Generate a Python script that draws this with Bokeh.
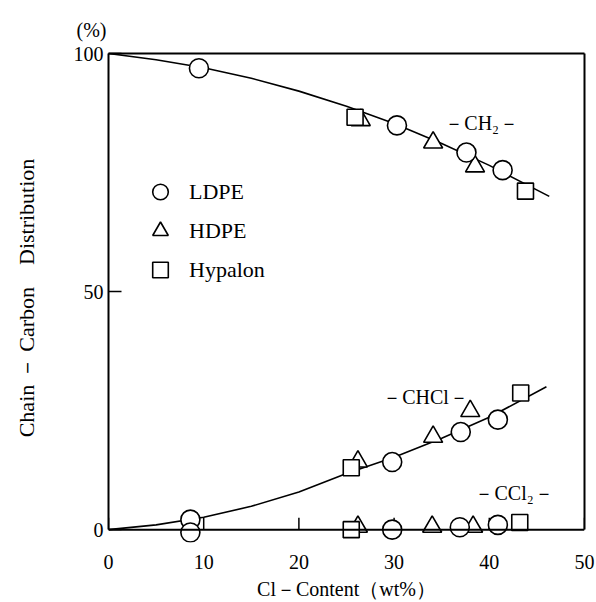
from bokeh.plotting import figure
from bokeh.models import (LinearAxis, FixedTicker, Range1d, Label, Legend,
                          LegendItem, Span, Title)
from bokeh.embed import file_html
from bokeh.resources import INLINE

FONT = "Liberation Serif"

# ---- data ----
x_ticks = [0, 10, 20, 30, 40, 50]
y_ticks = [0, 50, 100]

# fitted curves
ch2_curve_x = [0, 5, 10, 15, 20, 25, 30, 35, 40, 46.3]
ch2_curve_y = [100, 98.7, 97.0, 94.8, 92.1, 88.9, 85.3, 81.1, 76.5, 70.0]
chcl_curve_x = [0, 5, 10, 15, 20, 25, 30, 35, 40, 46]
chcl_curve_y = [0, 1.0, 2.6, 4.9, 7.9, 11.8, 15.2, 19.2, 23.6, 30.0]

# LDPE (circles)
ldpe_ch2_x = [9.5, 30.3, 37.6, 41.4]
ldpe_ch2_y = [96.9, 84.9, 79.2, 75.5]
ldpe_chcl_x = [8.6, 29.8, 37.0, 40.9]
ldpe_chcl_y = [2.1, 14.2, 20.5, 23.1]
ldpe_ccl2_x = [8.6, 29.8, 36.9, 40.9]
ldpe_ccl2_y = [-0.6, 0.0, 0.5, 1.0]

# HDPE (triangles)
hdpe_ch2_x = [26.5, 34.1, 38.5]
hdpe_ch2_y = [86.0, 81.3, 76.3]
hdpe_chcl_x = [26.2, 34.1, 38.0]
hdpe_chcl_y = [14.3, 19.5, 24.9]
hdpe_ccl2_x = [26.2, 34.0, 38.3]
hdpe_ccl2_y = [0.6, 0.6, 0.6]

# Hypalon (squares)
hyp_ch2_x = [25.9, 43.8]
hyp_ch2_y = [86.6, 71.1]
hyp_chcl_x = [25.5, 43.3]
hyp_chcl_y = [13.0, 28.7]
hyp_ccl2_x = [25.5, 43.2]
hyp_ccl2_y = [0.0, 1.5]

series_labels = ["LDPE", "HDPE", "Hypalon"]

X_MIN, X_MAX = 0, 50
Y_MIN, Y_MAX = 0, 100

p = figure(width=596, height=602, x_range=Range1d(X_MIN, X_MAX), y_range=Range1d(-2.7, Y_MAX),
           x_axis_location=None, y_axis_location=None,
           output_backend="svg", toolbar_location=None,
           min_border_left=108, min_border_right=12, min_border_top=53,
           min_border_bottom=59)
p.outline_line_color = None
p.background_fill_color = "white"
p.border_fill_color = "white"
p.xgrid.visible = False
p.ygrid.visible = False

def style_axis(ax):
    ax.axis_line_color = "black"
    ax.axis_line_width = 2
    ax.major_tick_line_color = "black"
    ax.major_tick_line_width = 1.5
    ax.minor_tick_line_color = None
    ax.major_tick_out = 0
    ax.major_label_text_font = FONT
    ax.major_label_text_font_size = "20px"
    ax.major_label_text_color = "black"

# bottom axis: labels only (line and ticks drawn at y = 0 below)
xaxis = LinearAxis(ticker=FixedTicker(ticks=x_ticks))
style_axis(xaxis)
xaxis.axis_line_color = None
xaxis.major_tick_line_color = None
xaxis.major_tick_in = 0
xaxis.major_label_standoff = 12
xaxis.axis_label = "Cl－Content（wt%）"
xaxis.axis_label_text_font = FONT
xaxis.axis_label_text_font_size = "20px"
xaxis.axis_label_text_font_style = "normal"
xaxis.axis_label_text_color = "black"
xaxis.axis_label_standoff = 6
p.add_layout(xaxis, "below")

yaxis = LinearAxis(ticker=FixedTicker(ticks=y_ticks), bounds=(Y_MIN, Y_MAX))
style_axis(yaxis)
yaxis.major_tick_in = 13
yaxis.major_label_standoff = 5
yaxis.axis_label = "Chain － Carbon\u3000Distribution"
yaxis.axis_label_text_font = FONT
yaxis.axis_label_text_font_size = "22px"
yaxis.axis_label_text_font_style = "normal"
yaxis.axis_label_text_color = "black"
yaxis.axis_label_standoff = 32
p.add_layout(yaxis, "left")

top = LinearAxis(ticker=FixedTicker(ticks=[]), major_label_text_font_size="0px")
top.axis_line_width = 2
p.add_layout(top, "above")
right = LinearAxis(ticker=FixedTicker(ticks=[]), major_label_text_font_size="0px",
                   bounds=(Y_MIN, Y_MAX))
right.axis_line_width = 2
p.add_layout(right, "right")

# unit mark above the y axis
p.add_layout(Title(text="(%)", align="left", offset=-32, standoff=26,
                   text_font=FONT, text_font_size="20px", text_font_style="normal",
                   text_color="black"), "above")

# the x axis line at y = 0 with inward ticks
p.add_layout(Span(location=Y_MIN, dimension="width", line_color="black", line_width=2))
p.segment(x0=x_ticks, y0=[Y_MIN] * len(x_ticks), x1=x_ticks, y1=[2.5] * len(x_ticks),
          line_color="black", line_width=1.5)

# curves
p.line(ch2_curve_x, ch2_curve_y, line_color="black", line_width=1.6)
p.line(chcl_curve_x, chcl_curve_y, line_color="black", line_width=1.6)

mk = dict(fill_color="white", line_color="black", line_width=1.6)
r_hdpe = p.scatter(hdpe_ch2_x + hdpe_chcl_x + hdpe_ccl2_x,
                   hdpe_ch2_y + hdpe_chcl_y + hdpe_ccl2_y,
                   marker="triangle", size=19, **mk)
r_hyp = p.scatter(hyp_ch2_x + hyp_chcl_x + hyp_ccl2_x,
                  hyp_ch2_y + hyp_chcl_y + hyp_ccl2_y,
                  marker="square", size=16, **mk)
r_ldpe = p.scatter(ldpe_ch2_x + ldpe_chcl_x + ldpe_ccl2_x,
                   ldpe_ch2_y + ldpe_chcl_y + ldpe_ccl2_y,
                   marker="circle", size=19, **mk)

legend = Legend(items=[LegendItem(label=series_labels[0], renderers=[r_ldpe]),
                       LegendItem(label=series_labels[1], renderers=[r_hdpe]),
                       LegendItem(label=series_labels[2], renderers=[r_hyp])],
                location=(31, 253), border_line_color=None, background_fill_alpha=0,
                glyph_width=42, glyph_height=39, label_height=39, label_standoff=8,
                padding=0, margin=0, spacing=0,
                label_text_font=FONT, label_text_font_size="22px",
                label_text_color="black")
p.add_layout(legend)

def txt(x, y, s, size="20px", align="center"):
    p.add_layout(Label(x=x, y=y, text=s, text_font=FONT, text_font_size=size,
                       text_align=align, text_baseline="middle", text_color="black"))

txt(39.2, 85.3, "－CH₂－")
txt(33.3, 27.9, "－CHCl－")
txt(42.6, 7.8, "－CCl₂－")

open("out.html", "w").write(file_html(p, INLINE))
